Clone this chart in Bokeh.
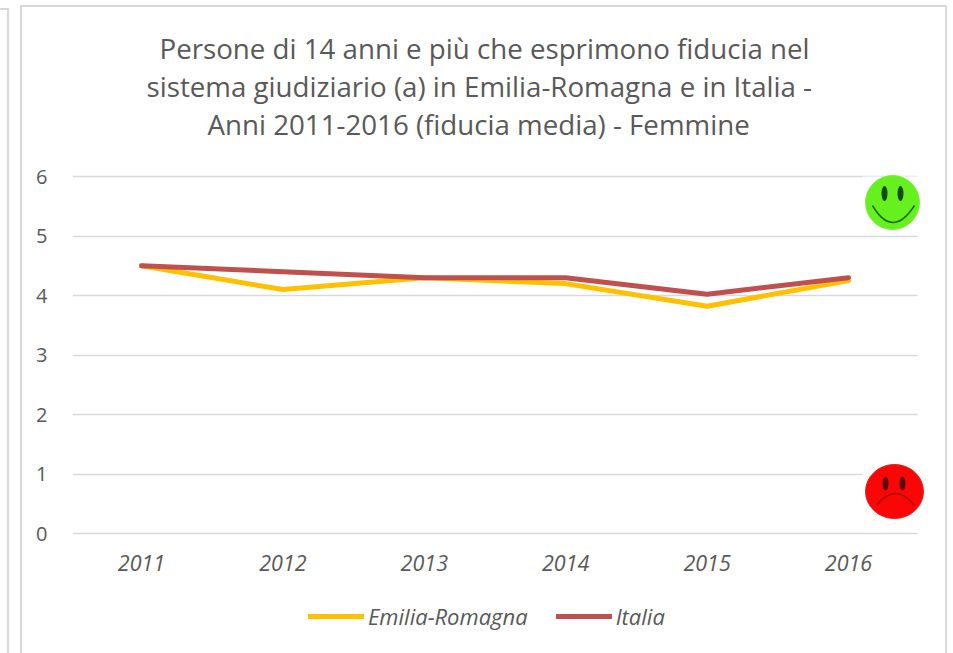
from bokeh.plotting import figure
from bokeh.embed import file_html
from bokeh.resources import INLINE
from bokeh.models import Range1d, LinearAxis, FixedTicker, Title, Legend, LegendItem, Grid

years = ["2011", "2012", "2013", "2014", "2015", "2016"]
emilia = [4.5, 4.1, 4.3, 4.2, 3.82, 4.25]
italia = [4.5, 4.4, 4.3, 4.3, 4.02, 4.3]
y_ticks = [0, 1, 2, 3, 4, 5, 6]
title_lines = ["Persone di 14 anni e più che esprimono fiducia nel",
               "sistema giudiziario (a) in Emilia-Romagna e in Italia -",
               "Anni 2011-2016 (fiducia media) - Femmine"]

FONT = "Open Sans"
TXT = "#595959"
GRID = "#D9D9D9"
W, H = 953, 653
L, R, T, B = 72, 935, 170, 653      # plot frame, in page pixels (runs down to hold the legend)
AXIS_Y = 539                        # page pixel row of the x axis
STEP = 141.4
X0 = 141.0
YU = 59.5
Y0 = 533.0

def bar(x, y, w, h):
    return f"linear-gradient({GRID},{GRID}) {x}px {y}px/{w}px {h}px no-repeat"

x = list(range(len(years)))
p = figure(width=W, height=H, frame_width=R - L, frame_height=B - T,
           output_backend="svg", toolbar_location=None,
           x_range=Range1d((L - X0) / STEP, (R - X0) / STEP),
           y_range=Range1d((Y0 - B) / YU, (Y0 - T) / YU),
           min_border_left=L, min_border_right=W - R,
           min_border_top=T, min_border_bottom=0,
           x_axis_type=None, y_axis_type=None, outline_line_color=None,
           border_fill_color=None, background_fill_color=None)
p.styles = {"background": ", ".join([bar(20, 5, 2, 648), bar(20, 5, 927, 2), bar(945, 5, 2, 648),
                                     bar(7, 8, 2, 645), bar(0, 8, 9, 2)])}
p.extra_x_ranges["px"] = Range1d(L, R)
p.extra_y_ranges["px"] = Range1d(B, T)

xa = LinearAxis(ticker=FixedTicker(ticks=x), major_label_overrides={i: y for i, y in zip(x, years)},
                fixed_location=(Y0 - AXIS_Y) / YU)
ya = LinearAxis(ticker=FixedTicker(ticks=y_ticks))
for a in (xa, ya):
    a.axis_line_color = None
    a.major_tick_line_color = None
    a.minor_tick_line_color = None
    a.major_label_text_color = TXT
    a.major_label_text_font = FONT
    a.major_label_text_font_size = "20px"
xa.major_label_text_font_style = "italic"
xa.major_label_text_font_size = "21.5px"
xa.major_label_standoff = 9
ya.major_label_standoff = 19
p.add_layout(xa, "below")
p.add_layout(ya, "left")
p.add_layout(Grid(dimension=1, ticker=FixedTicker(ticks=y_ticks), grid_line_color=GRID, grid_line_width=1.5))

# white mask to the right of the gridlines, and around the two faces
px = dict(x_range_name="px", y_range_name="px")
p.quad(left=[917], right=[935], top=[T], bottom=[B], fill_color="white", line_color=None, **px)
p.quad(left=[862, 862], right=[917, 917], top=[176, 462], bottom=[229, 520],
       fill_color="white", line_color=None, **px)

r1 = p.line(x, emilia, line_color="#FFC000", line_width=5, line_cap="round", line_join="round")
r2 = p.line(x, italia, line_color="#C0504D", line_width=5, line_cap="round", line_join="round")

# faces
p.ellipse(x=[892], y=[202], width=[54], height=[54], fill_color="#66F01E", line_color="#7CF040", **px)
p.ellipse(x=[884, 900], y=[193, 193], width=[6, 6], height=[15, 15], fill_color="#174A0A", line_color=None, **px)
p.quadratic(x0=[872], y0=[205], x1=[914], y1=[205], cx=[892], cy=[239], line_color="#1B6A10", line_width=1.5, **px)
p.ellipse(x=[894], y=[491], width=[58], height=[54], fill_color="#FA0606", line_color="#D92020", **px)
p.ellipse(x=[885, 902], y=[483, 483], width=[6, 6], height=[14, 14], fill_color="#5C0808", line_color=None, **px)
p.quadratic(x0=[876], y0=[505], x1=[914], y1=[505], cx=[895], cy=[481], line_color="#A81010", line_width=1.5, **px)

p.add_layout(Title(text=" ", text_font=FONT, text_font_size="12.5px"), "above")
title_starts = [87, 74, 135]
for line, off in zip(reversed(title_lines), reversed(title_starts)):
    p.add_layout(Title(text=line, align="left", offset=off, standoff=-2,
                       text_font=FONT, text_font_size="27.7px", text_font_style="normal", text_color=TXT), "above")

leg = Legend(items=[LegendItem(label="Emilia-Romagna", renderers=[r1]), LegendItem(label="Italia", renderers=[r2])],
             orientation="horizontal", location=(236, 22), border_line_color=None, background_fill_alpha=0,
             margin=0, padding=0, spacing=28, glyph_width=56, glyph_height=20, label_standoff=4,
             label_text_font=FONT, label_text_font_style="italic", label_text_font_size="22px",
             label_text_color=TXT)
p.add_layout(leg, "center")

open("out.html", "w").write(file_html(p, INLINE))
